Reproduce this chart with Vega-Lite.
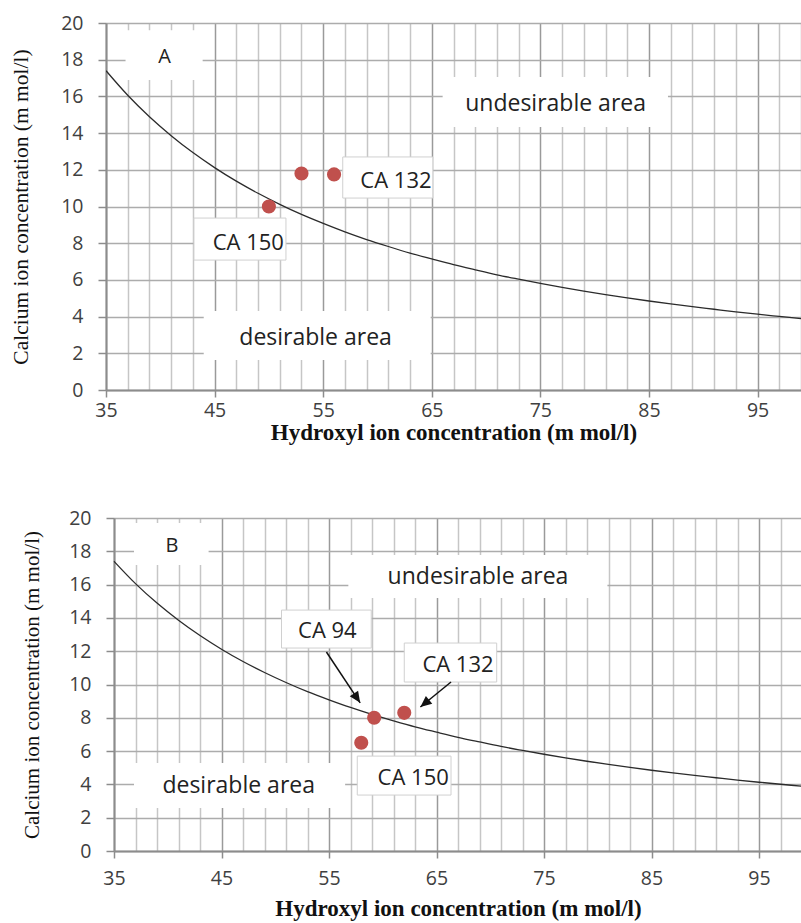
{
  "$schema": "https://vega.github.io/schema/vega-lite/v6.json",
  "padding": {"left": 10, "top": 13, "right": 0, "bottom": 0},
  "background": "white",
  "spacing": 63,
  "config": {
    "view": {"stroke": null},
    "axis": {
      "labelFont": "Open Sans",
      "labelFontSize": 19.5,
      "labelColor": "#404040",
      "domainColor": "#8c8c8c",
      "domainWidth": 2,
      "tickColor": "#8c8c8c",
      "tickWidth": 1.5,
      "gridWidth": 1.5,
      "titleFont": "Liberation Serif",
      "titleColor": "#111111"
    }
  },
  "datasets": {
    "curve": [
      {"x": 35, "y": 17.4}, {"x": 37, "y": 16.06}, {"x": 39, "y": 14.89}, {"x": 41, "y": 13.86},
      {"x": 43, "y": 12.94}, {"x": 45, "y": 12.12}, {"x": 47, "y": 11.38}, {"x": 49, "y": 10.72},
      {"x": 51, "y": 10.12}, {"x": 53, "y": 9.57}, {"x": 55, "y": 9.08}, {"x": 57, "y": 8.62},
      {"x": 59, "y": 8.2}, {"x": 61, "y": 7.82}, {"x": 63, "y": 7.46}, {"x": 65, "y": 7.14},
      {"x": 67, "y": 6.83}, {"x": 69, "y": 6.55}, {"x": 71, "y": 6.28}, {"x": 73, "y": 6.04},
      {"x": 75, "y": 5.81}, {"x": 77, "y": 5.59}, {"x": 79, "y": 5.39}, {"x": 81, "y": 5.2},
      {"x": 83, "y": 5.02}, {"x": 85, "y": 4.85}, {"x": 87, "y": 4.69}, {"x": 89, "y": 4.54},
      {"x": 91, "y": 4.4}, {"x": 93, "y": 4.26}, {"x": 95, "y": 4.13}, {"x": 97, "y": 4.01},
      {"x": 99, "y": 3.89}
    ],
    "pointsA": [
      {"sample": "CA 150", "x": 50, "y": 10},
      {"sample": "CA 94", "x": 53, "y": 11.8},
      {"sample": "CA 132", "x": 56, "y": 11.75}
    ],
    "pointsB": [
      {"sample": "CA 150", "x": 58, "y": 6.5},
      {"sample": "CA 94", "x": 59.2, "y": 8.0},
      {"sample": "CA 132", "x": 62, "y": 8.3}
    ],
    "boxesA": [
      {"kind": "panel", "x": 36.8, "x2": 43.9, "y": 19.6, "y2": 16.9},
      {"kind": "region", "x": 66.0, "x2": 86.75, "y": 17.06, "y2": 14.33},
      {"kind": "region", "x": 44.0, "x2": 64.9, "y": 4.3, "y2": 1.63},
      {"kind": "callout", "x": 43.1, "x2": 51.57, "y": 9.37, "y2": 7.08},
      {"kind": "callout", "x": 56.8, "x2": 65.1, "y": 12.7, "y2": 10.46}
    ],
    "labelsA": [
      {"kind": "panel", "label": "A", "x": 40.4, "y": 18.15},
      {"kind": "region", "label": "undesirable area", "x": 76.4, "y": 15.6},
      {"kind": "region", "label": "desirable area", "x": 54.3, "y": 2.85},
      {"kind": "callout", "label": "CA 150", "x": 48.1, "y": 8.0},
      {"kind": "callout", "label": "CA 132", "x": 61.7, "y": 11.4}
    ],
    "boxesB": [
      {"kind": "panel", "x": 36.86, "x2": 43.8, "y": 19.7, "y2": 17.18},
      {"kind": "region", "x": 56.8, "x2": 80.9, "y": 17.78, "y2": 15.2},
      {"kind": "region", "x": 36.86, "x2": 56.5, "y": 5.29, "y2": 2.58},
      {"kind": "callout", "x": 50.58, "x2": 58.93, "y": 14.47, "y2": 12.19},
      {"kind": "callout", "x": 62.0, "x2": 70.6, "y": 12.49, "y2": 10.15},
      {"kind": "callout", "x": 57.63, "x2": 66.35, "y": 5.7, "y2": 3.36}
    ],
    "labelsB": [
      {"kind": "panel", "label": "B", "x": 40.4, "y": 18.3},
      {"kind": "region", "label": "undesirable area", "x": 68.86, "y": 16.45},
      {"kind": "region", "label": "desirable area", "x": 46.6, "y": 3.9},
      {"kind": "callout", "label": "CA 94", "x": 54.85, "y": 13.2},
      {"kind": "callout", "label": "CA 132", "x": 67.0, "y": 11.15},
      {"kind": "callout", "label": "CA 150", "x": 62.83, "y": 4.4}
    ]
  },
  "vconcat": [
    {
      "width": 695,
      "height": 367,
      "encoding": {
        "x": {
          "field": "x", "type": "quantitative",
          "scale": {"domain": [35, 99], "nice": false, "zero": false},
          "axis": {
            "values": [35,37,39,41,43,45,47,49,51,53,55,57,59,61,63,65,67,69,71,73,75,77,79,81,83,85,87,89,91,93,95,97,99],
            "labelExpr": "(datum.value - 35) % 10 === 0 ? datum.label : ''",
            "labelFlush": false, "labelOverlap": false,
            "gridColor": {"condition": {"test": "(datum.value - 35) % 10 === 0", "value": "#9a9a9a"}, "value": "#c6c6c6"},
            "tickOpacity": {"condition": {"test": "(datum.value - 35) % 10 === 0", "value": 1}, "value": 0},
            "tickSize": 7, "labelPadding": 4,
            "title": "Hydroxyl ion concentration (m mol/l)",
            "titleFontSize": 23, "titleFontWeight": "bold", "titlePadding": 2
          }
        },
        "y": {
          "field": "y", "type": "quantitative",
          "scale": {"domain": [0, 20], "nice": false},
          "axis": {
            "values": [0,2,4,6,8,10,12,14,16,18,20],
            "gridColor": "#acacac",
            "tickSize": 8, "labelPadding": 15,
            "title": "Calcium ion concentration (m mol/l)",
            "titleFontSize": 21.5, "titleFontWeight": "normal", "titlePadding": 28
          }
        }
      },
      "layer": [
        {
          "data": {"name": "boxesA"},
          "mark": {"type": "rect", "fill": "white", "strokeWidth": 1},
          "encoding": {
            "x2": {"field": "x2"}, "y2": {"field": "y2"},
            "stroke": {"condition": {"test": "datum.kind === 'callout'", "value": "#d0d0d0"}, "value": null}
          }
        },
        {
          "data": {"name": "curve"},
          "mark": {"type": "line", "color": "#2b2b2b", "strokeWidth": 1.3, "interpolate": "monotone", "clip": true}
        },
        {
          "data": {"name": "pointsA"},
          "mark": {"type": "circle", "size": 200, "color": "#c0504d", "opacity": 1}
        },
        {
          "data": {"name": "labelsA"},
          "mark": {"type": "text", "font": "Open Sans", "color": "#222222", "align": "center", "baseline": "middle"},
          "encoding": {
            "text": {"field": "label"},
            "size": {"condition": [{"test": "datum.kind === 'panel'", "value": 20}, {"test": "datum.kind === 'region'", "value": 23}], "value": 22}
          }
        },
        {
          "data": {"values": [{}]},
          "mark": {"type": "rule", "color": "#1a1a1a", "strokeWidth": 1.5},
          "encoding": {"x": {"datum": 35}, "x2": {"datum": 99}, "y": {"datum": 20}}
        }
      ]
    },
    {
      "width": 696,
      "height": 333,
      "encoding": {
        "x": {
          "field": "x", "type": "quantitative",
          "scale": {"domain": [35, 99], "nice": false, "zero": false, "range": [8, 696]},
          "axis": {
            "values": [35,37,39,41,43,45,47,49,51,53,55,57,59,61,63,65,67,69,71,73,75,77,79,81,83,85,87,89,91,93,95,97,99],
            "labelExpr": "(datum.value - 35) % 10 === 0 ? datum.label : ''",
            "labelFlush": false, "labelOverlap": false,
            "gridColor": {"condition": {"test": "(datum.value - 35) % 10 === 0", "value": "#9a9a9a"}, "value": "#c6c6c6"},
            "tickOpacity": {"condition": {"test": "(datum.value - 35) % 10 === 0", "value": 1}, "value": 0},
            "tickSize": 7, "labelPadding": 11,
            "title": "Hydroxyl ion concentration (m mol/l)",
            "titleFontSize": 23, "titleFontWeight": "bold", "titlePadding": 10
          }
        },
        "y": {
          "field": "y", "type": "quantitative",
          "scale": {"domain": [0, 20], "nice": false},
          "axis": {
            "values": [0,2,4,6,8,10,12,14,16,18,20],
            "offset": -8,
            "gridColor": "#acacac",
            "tickSize": 8, "labelPadding": 15,
            "title": "Calcium ion concentration (m mol/l)",
            "titleFontSize": 21, "titleFontWeight": "normal", "titlePadding": 26
          }
        }
      },
      "layer": [
        {
          "data": {"name": "boxesB"},
          "mark": {"type": "rect", "fill": "white", "strokeWidth": 1},
          "encoding": {
            "x2": {"field": "x2"}, "y2": {"field": "y2"},
            "stroke": {"condition": {"test": "datum.kind === 'callout'", "value": "#d0d0d0"}, "value": null}
          }
        },
        {
          "data": {"name": "curve"},
          "mark": {"type": "line", "color": "#2b2b2b", "strokeWidth": 1.3, "interpolate": "monotone", "clip": true}
        },
        {
          "data": {"values": [{"x": 54.76, "y": 11.95, "x2": 57.9, "y2": 8.9}]},
          "mark": {"type": "rule", "color": "#111111", "strokeWidth": 1.5},
          "encoding": {"x2": {"field": "x2"}, "y2": {"field": "y2"}}
        },
        {
          "data": {"values": [{"x": 57.9, "y": 8.9}]},
          "mark": {"type": "point", "shape": "M0,0L-0.45,1L0.45,1Z", "filled": true, "color": "#111111", "opacity": 1, "size": 500, "angle": 146, "strokeWidth": 0}
        },
        {
          "data": {"values": [{"x": 66.35, "y": 10.15, "x2": 63.5, "y2": 8.65}]},
          "mark": {"type": "rule", "color": "#111111", "strokeWidth": 1.5},
          "encoding": {"x2": {"field": "x2"}, "y2": {"field": "y2"}}
        },
        {
          "data": {"values": [{"x": 63.5, "y": 8.65}]},
          "mark": {"type": "point", "shape": "M0,0L-0.45,1L0.45,1Z", "filled": true, "color": "#111111", "opacity": 1, "size": 500, "angle": 231, "strokeWidth": 0}
        },
        {
          "data": {"name": "pointsB"},
          "mark": {"type": "circle", "size": 200, "color": "#c0504d", "opacity": 1}
        },
        {
          "data": {"name": "labelsB"},
          "mark": {"type": "text", "font": "Open Sans", "color": "#222222", "align": "center", "baseline": "middle"},
          "encoding": {
            "text": {"field": "label"},
            "size": {"condition": [{"test": "datum.kind === 'panel'", "value": 20}, {"test": "datum.kind === 'region'", "value": 23}], "value": 22}
          }
        },
        {
          "data": {"values": [{}]},
          "mark": {"type": "rule", "color": "#555555", "strokeWidth": 1.5},
          "encoding": {"x": {"datum": 35}, "x2": {"datum": 99}, "y": {"datum": 20}}
        }
      ]
    }
  ]
}
